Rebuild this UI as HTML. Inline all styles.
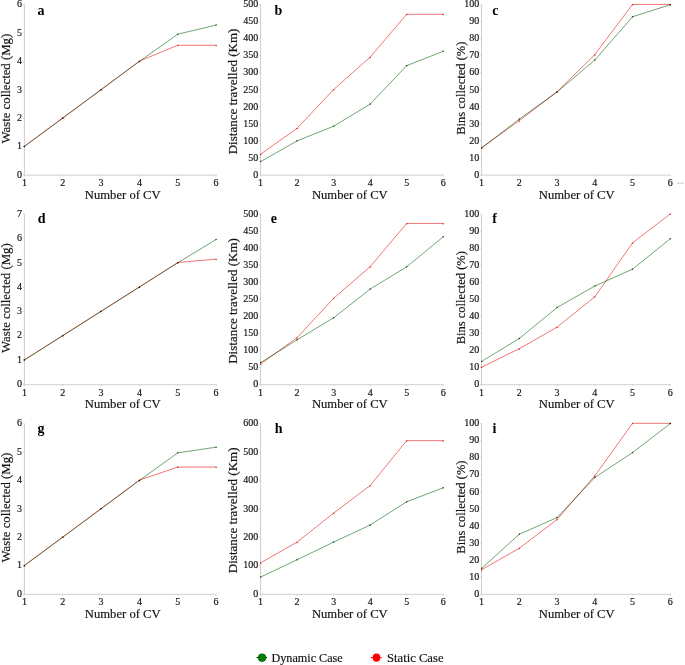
<!DOCTYPE html>
<html><head><meta charset="utf-8"><style>
html,body{margin:0;padding:0;background:#fff;}
body{width:685px;height:665px;overflow:hidden;}
svg{display:block;}
text{font-family:"Liberation Serif",serif;fill:#151515;stroke:#151515;stroke-width:0.18px;}
.pl{stroke-width:0;}
.tk{font-size:10px;}
.xl{font-size:12.8px;}
.al{font-size:12.2px;}
.lg{font-size:12.8px;}
.pl{font-size:14px;font-weight:bold;fill:#000;}
</style></head><body>
<svg width="685" height="665" viewBox="0 0 685 665">
<rect width="685" height="665" fill="#fff"/>
<g><line x1="24.4" y1="4.7" x2="24.4" y2="176.1" stroke="#cdcdcd" stroke-width="1"/><line x1="23.9" y1="175.1" x2="216.6" y2="175.1" stroke="#d9d9d9" stroke-width="1.2"/><line x1="22.8" y1="174.9" x2="24.4" y2="174.9" stroke="#cdcdcd" stroke-width="0.8"/><text x="22" y="177.6" class="tk" text-anchor="end">0</text><line x1="22.8" y1="146.53" x2="24.4" y2="146.53" stroke="#cdcdcd" stroke-width="0.8"/><text x="22" y="149.23" class="tk" text-anchor="end">1</text><line x1="22.8" y1="118.17" x2="24.4" y2="118.17" stroke="#cdcdcd" stroke-width="0.8"/><text x="22" y="120.87" class="tk" text-anchor="end">2</text><line x1="22.8" y1="89.8" x2="24.4" y2="89.8" stroke="#cdcdcd" stroke-width="0.8"/><text x="22" y="92.5" class="tk" text-anchor="end">3</text><line x1="22.8" y1="61.43" x2="24.4" y2="61.43" stroke="#cdcdcd" stroke-width="0.8"/><text x="22" y="64.13" class="tk" text-anchor="end">4</text><line x1="22.8" y1="33.07" x2="24.4" y2="33.07" stroke="#cdcdcd" stroke-width="0.8"/><text x="22" y="35.77" class="tk" text-anchor="end">5</text><line x1="22.8" y1="4.7" x2="24.4" y2="4.7" stroke="#cdcdcd" stroke-width="0.8"/><text x="22" y="7.4" class="tk" text-anchor="end">6</text><line x1="24.4" y1="174.9" x2="24.4" y2="176.5" stroke="#cdcdcd" stroke-width="0.8"/><text x="24.4" y="186.2" class="tk" text-anchor="middle">1</text><line x1="62.74" y1="174.9" x2="62.74" y2="176.5" stroke="#cdcdcd" stroke-width="0.8"/><text x="62.74" y="186.2" class="tk" text-anchor="middle">2</text><line x1="101.08" y1="174.9" x2="101.08" y2="176.5" stroke="#cdcdcd" stroke-width="0.8"/><text x="101.08" y="186.2" class="tk" text-anchor="middle">3</text><line x1="139.42" y1="174.9" x2="139.42" y2="176.5" stroke="#cdcdcd" stroke-width="0.8"/><text x="139.42" y="186.2" class="tk" text-anchor="middle">4</text><line x1="177.76" y1="174.9" x2="177.76" y2="176.5" stroke="#cdcdcd" stroke-width="0.8"/><text x="177.76" y="186.2" class="tk" text-anchor="middle">5</text><line x1="216.1" y1="174.9" x2="216.1" y2="176.5" stroke="#cdcdcd" stroke-width="0.8"/><text x="216.1" y="186.2" class="tk" text-anchor="middle">6</text><text x="122.75" y="198.6" class="xl" text-anchor="middle" textLength="75.8" lengthAdjust="spacingAndGlyphs">Number of CV</text><text transform="translate(9.9,88.65) rotate(-90)" x="0" y="0" class="al" text-anchor="middle" textLength="109.8" lengthAdjust="spacingAndGlyphs">Waste collected (Mg)</text><text x="37.5" y="14.5" class="pl">a</text><polyline points="24.4,146.53 62.74,118.17 101.08,89.8 139.42,61.43 177.76,34.2 216.1,25.12" fill="none" stroke="#70a870" stroke-width="1"/><polyline points="24.4,146.53 62.74,118.17 101.08,89.8 139.42,61.43 177.76,45.55 216.1,45.55" fill="none" stroke="#f07676" stroke-width="1" transform="translate(0,-0.3)" style="mix-blend-mode:multiply"/><circle cx="24.4" cy="146.53" r="0.75" fill="#d82020"/><circle cx="62.74" cy="118.17" r="0.75" fill="#d82020"/><circle cx="101.08" cy="89.8" r="0.75" fill="#d82020"/><circle cx="139.42" cy="61.43" r="0.75" fill="#d82020"/><circle cx="177.76" cy="45.55" r="0.75" fill="#d82020"/><circle cx="216.1" cy="45.55" r="0.75" fill="#d82020"/><circle cx="24.4" cy="146.53" r="0.75" fill="#1f4a1f" style="mix-blend-mode:multiply"/><circle cx="62.74" cy="118.17" r="0.75" fill="#1f4a1f" style="mix-blend-mode:multiply"/><circle cx="101.08" cy="89.8" r="0.75" fill="#1f4a1f" style="mix-blend-mode:multiply"/><circle cx="139.42" cy="61.43" r="0.75" fill="#1f4a1f" style="mix-blend-mode:multiply"/><circle cx="177.76" cy="34.2" r="0.75" fill="#1f4a1f" style="mix-blend-mode:multiply"/><circle cx="216.1" cy="25.12" r="0.75" fill="#1f4a1f" style="mix-blend-mode:multiply"/></g><g><line x1="260.6" y1="4.7" x2="260.6" y2="176.1" stroke="#cdcdcd" stroke-width="1"/><line x1="260.1" y1="175.1" x2="443.7" y2="175.1" stroke="#d9d9d9" stroke-width="1.2"/><line x1="259" y1="174.9" x2="260.6" y2="174.9" stroke="#cdcdcd" stroke-width="0.8"/><text x="258.2" y="177.6" class="tk" text-anchor="end">0</text><line x1="259" y1="157.88" x2="260.6" y2="157.88" stroke="#cdcdcd" stroke-width="0.8"/><text x="258.2" y="160.58" class="tk" text-anchor="end">50</text><line x1="259" y1="140.86" x2="260.6" y2="140.86" stroke="#cdcdcd" stroke-width="0.8"/><text x="258.2" y="143.56" class="tk" text-anchor="end">100</text><line x1="259" y1="123.84" x2="260.6" y2="123.84" stroke="#cdcdcd" stroke-width="0.8"/><text x="258.2" y="126.54" class="tk" text-anchor="end">150</text><line x1="259" y1="106.82" x2="260.6" y2="106.82" stroke="#cdcdcd" stroke-width="0.8"/><text x="258.2" y="109.52" class="tk" text-anchor="end">200</text><line x1="259" y1="89.8" x2="260.6" y2="89.8" stroke="#cdcdcd" stroke-width="0.8"/><text x="258.2" y="92.5" class="tk" text-anchor="end">250</text><line x1="259" y1="72.78" x2="260.6" y2="72.78" stroke="#cdcdcd" stroke-width="0.8"/><text x="258.2" y="75.48" class="tk" text-anchor="end">300</text><line x1="259" y1="55.76" x2="260.6" y2="55.76" stroke="#cdcdcd" stroke-width="0.8"/><text x="258.2" y="58.46" class="tk" text-anchor="end">350</text><line x1="259" y1="38.74" x2="260.6" y2="38.74" stroke="#cdcdcd" stroke-width="0.8"/><text x="258.2" y="41.44" class="tk" text-anchor="end">400</text><line x1="259" y1="21.72" x2="260.6" y2="21.72" stroke="#cdcdcd" stroke-width="0.8"/><text x="258.2" y="24.42" class="tk" text-anchor="end">450</text><line x1="259" y1="4.7" x2="260.6" y2="4.7" stroke="#cdcdcd" stroke-width="0.8"/><text x="258.2" y="7.4" class="tk" text-anchor="end">500</text><line x1="260.6" y1="174.9" x2="260.6" y2="176.5" stroke="#cdcdcd" stroke-width="0.8"/><text x="260.6" y="186.2" class="tk" text-anchor="middle">1</text><line x1="297.12" y1="174.9" x2="297.12" y2="176.5" stroke="#cdcdcd" stroke-width="0.8"/><text x="297.12" y="186.2" class="tk" text-anchor="middle">2</text><line x1="333.64" y1="174.9" x2="333.64" y2="176.5" stroke="#cdcdcd" stroke-width="0.8"/><text x="333.64" y="186.2" class="tk" text-anchor="middle">3</text><line x1="370.16" y1="174.9" x2="370.16" y2="176.5" stroke="#cdcdcd" stroke-width="0.8"/><text x="370.16" y="186.2" class="tk" text-anchor="middle">4</text><line x1="406.68" y1="174.9" x2="406.68" y2="176.5" stroke="#cdcdcd" stroke-width="0.8"/><text x="406.68" y="186.2" class="tk" text-anchor="middle">5</text><line x1="443.2" y1="174.9" x2="443.2" y2="176.5" stroke="#cdcdcd" stroke-width="0.8"/><text x="443.2" y="186.2" class="tk" text-anchor="middle">6</text><text x="349.8" y="198.6" class="xl" text-anchor="middle" textLength="75.8" lengthAdjust="spacingAndGlyphs">Number of CV</text><text transform="translate(237.3,91.45) rotate(-90)" x="0" y="0" class="al" text-anchor="middle" textLength="125.7" lengthAdjust="spacingAndGlyphs">Distance travelled (Km)</text><text x="274.5" y="14.7" class="pl">b</text><polyline points="260.6,161.62 297.12,140.86 333.64,126.22 370.16,104.1 406.68,65.63 443.2,51.33" fill="none" stroke="#70a870" stroke-width="1"/><polyline points="260.6,154.48 297.12,128.61 333.64,89.8 370.16,57.46 406.68,14.57 443.2,14.57" fill="none" stroke="#f07676" stroke-width="1" transform="translate(0,-0.3)" style="mix-blend-mode:multiply"/><circle cx="260.6" cy="154.48" r="0.75" fill="#d82020"/><circle cx="297.12" cy="128.61" r="0.75" fill="#d82020"/><circle cx="333.64" cy="89.8" r="0.75" fill="#d82020"/><circle cx="370.16" cy="57.46" r="0.75" fill="#d82020"/><circle cx="406.68" cy="14.57" r="0.75" fill="#d82020"/><circle cx="443.2" cy="14.57" r="0.75" fill="#d82020"/><circle cx="260.6" cy="161.62" r="0.75" fill="#1f4a1f" style="mix-blend-mode:multiply"/><circle cx="297.12" cy="140.86" r="0.75" fill="#1f4a1f" style="mix-blend-mode:multiply"/><circle cx="333.64" cy="126.22" r="0.75" fill="#1f4a1f" style="mix-blend-mode:multiply"/><circle cx="370.16" cy="104.1" r="0.75" fill="#1f4a1f" style="mix-blend-mode:multiply"/><circle cx="406.68" cy="65.63" r="0.75" fill="#1f4a1f" style="mix-blend-mode:multiply"/><circle cx="443.2" cy="51.33" r="0.75" fill="#1f4a1f" style="mix-blend-mode:multiply"/></g><g><line x1="481.6" y1="4.7" x2="481.6" y2="176.1" stroke="#cdcdcd" stroke-width="1"/><line x1="481.1" y1="175.1" x2="670.8" y2="175.1" stroke="#d9d9d9" stroke-width="1.2"/><line x1="480" y1="174.9" x2="481.6" y2="174.9" stroke="#cdcdcd" stroke-width="0.8"/><text x="479.2" y="177.6" class="tk" text-anchor="end">0</text><line x1="480" y1="157.88" x2="481.6" y2="157.88" stroke="#cdcdcd" stroke-width="0.8"/><text x="479.2" y="160.58" class="tk" text-anchor="end">10</text><line x1="480" y1="140.86" x2="481.6" y2="140.86" stroke="#cdcdcd" stroke-width="0.8"/><text x="479.2" y="143.56" class="tk" text-anchor="end">20</text><line x1="480" y1="123.84" x2="481.6" y2="123.84" stroke="#cdcdcd" stroke-width="0.8"/><text x="479.2" y="126.54" class="tk" text-anchor="end">30</text><line x1="480" y1="106.82" x2="481.6" y2="106.82" stroke="#cdcdcd" stroke-width="0.8"/><text x="479.2" y="109.52" class="tk" text-anchor="end">40</text><line x1="480" y1="89.8" x2="481.6" y2="89.8" stroke="#cdcdcd" stroke-width="0.8"/><text x="479.2" y="92.5" class="tk" text-anchor="end">50</text><line x1="480" y1="72.78" x2="481.6" y2="72.78" stroke="#cdcdcd" stroke-width="0.8"/><text x="479.2" y="75.48" class="tk" text-anchor="end">60</text><line x1="480" y1="55.76" x2="481.6" y2="55.76" stroke="#cdcdcd" stroke-width="0.8"/><text x="479.2" y="58.46" class="tk" text-anchor="end">70</text><line x1="480" y1="38.74" x2="481.6" y2="38.74" stroke="#cdcdcd" stroke-width="0.8"/><text x="479.2" y="41.44" class="tk" text-anchor="end">80</text><line x1="480" y1="21.72" x2="481.6" y2="21.72" stroke="#cdcdcd" stroke-width="0.8"/><text x="479.2" y="24.42" class="tk" text-anchor="end">90</text><line x1="480" y1="4.7" x2="481.6" y2="4.7" stroke="#cdcdcd" stroke-width="0.8"/><text x="479.2" y="7.4" class="tk" text-anchor="end">100</text><line x1="481.6" y1="174.9" x2="481.6" y2="176.5" stroke="#cdcdcd" stroke-width="0.8"/><text x="481.6" y="186.2" class="tk" text-anchor="middle">1</text><line x1="519.34" y1="174.9" x2="519.34" y2="176.5" stroke="#cdcdcd" stroke-width="0.8"/><text x="519.34" y="186.2" class="tk" text-anchor="middle">2</text><line x1="557.08" y1="174.9" x2="557.08" y2="176.5" stroke="#cdcdcd" stroke-width="0.8"/><text x="557.08" y="186.2" class="tk" text-anchor="middle">3</text><line x1="594.82" y1="174.9" x2="594.82" y2="176.5" stroke="#cdcdcd" stroke-width="0.8"/><text x="594.82" y="186.2" class="tk" text-anchor="middle">4</text><line x1="632.56" y1="174.9" x2="632.56" y2="176.5" stroke="#cdcdcd" stroke-width="0.8"/><text x="632.56" y="186.2" class="tk" text-anchor="middle">5</text><line x1="670.3" y1="174.9" x2="670.3" y2="176.5" stroke="#cdcdcd" stroke-width="0.8"/><text x="670.3" y="186.2" class="tk" text-anchor="middle">6</text><text x="576.75" y="198.6" class="xl" text-anchor="middle" textLength="75.8" lengthAdjust="spacingAndGlyphs">Number of CV</text><text transform="translate(464.7,88.2) rotate(-90)" x="0" y="0" class="al" text-anchor="middle" textLength="93.2" lengthAdjust="spacingAndGlyphs">Bins collected (%)</text><text x="492.3" y="14.5" class="pl">c</text><polyline points="481.6,148.01 519.34,119.07 557.08,92.01 594.82,60.01 632.56,16.78 670.3,4.7" fill="none" stroke="#70a870" stroke-width="1"/><polyline points="481.6,148.01 519.34,120.95 557.08,92.01 594.82,54.91 632.56,4.7 670.3,4.7" fill="none" stroke="#f07676" stroke-width="1" transform="translate(0,-0.3)" style="mix-blend-mode:multiply"/><circle cx="481.6" cy="148.01" r="0.75" fill="#d82020"/><circle cx="519.34" cy="120.95" r="0.75" fill="#d82020"/><circle cx="557.08" cy="92.01" r="0.75" fill="#d82020"/><circle cx="594.82" cy="54.91" r="0.75" fill="#d82020"/><circle cx="632.56" cy="4.7" r="0.75" fill="#d82020"/><circle cx="670.3" cy="4.7" r="0.75" fill="#d82020"/><circle cx="481.6" cy="148.01" r="0.75" fill="#1f4a1f" style="mix-blend-mode:multiply"/><circle cx="519.34" cy="119.07" r="0.75" fill="#1f4a1f" style="mix-blend-mode:multiply"/><circle cx="557.08" cy="92.01" r="0.75" fill="#1f4a1f" style="mix-blend-mode:multiply"/><circle cx="594.82" cy="60.01" r="0.75" fill="#1f4a1f" style="mix-blend-mode:multiply"/><circle cx="632.56" cy="16.78" r="0.75" fill="#1f4a1f" style="mix-blend-mode:multiply"/><circle cx="670.3" cy="4.7" r="0.75" fill="#1f4a1f" style="mix-blend-mode:multiply"/></g><g><line x1="24.4" y1="214.2" x2="24.4" y2="385.6" stroke="#cdcdcd" stroke-width="1"/><line x1="23.9" y1="384.6" x2="216.6" y2="384.6" stroke="#d9d9d9" stroke-width="1.2"/><line x1="22.8" y1="384.4" x2="24.4" y2="384.4" stroke="#cdcdcd" stroke-width="0.8"/><text x="22" y="387.1" class="tk" text-anchor="end">0</text><line x1="22.8" y1="360.09" x2="24.4" y2="360.09" stroke="#cdcdcd" stroke-width="0.8"/><text x="22" y="362.79" class="tk" text-anchor="end">1</text><line x1="22.8" y1="335.77" x2="24.4" y2="335.77" stroke="#cdcdcd" stroke-width="0.8"/><text x="22" y="338.47" class="tk" text-anchor="end">2</text><line x1="22.8" y1="311.46" x2="24.4" y2="311.46" stroke="#cdcdcd" stroke-width="0.8"/><text x="22" y="314.16" class="tk" text-anchor="end">3</text><line x1="22.8" y1="287.14" x2="24.4" y2="287.14" stroke="#cdcdcd" stroke-width="0.8"/><text x="22" y="289.84" class="tk" text-anchor="end">4</text><line x1="22.8" y1="262.83" x2="24.4" y2="262.83" stroke="#cdcdcd" stroke-width="0.8"/><text x="22" y="265.53" class="tk" text-anchor="end">5</text><line x1="22.8" y1="238.51" x2="24.4" y2="238.51" stroke="#cdcdcd" stroke-width="0.8"/><text x="22" y="241.21" class="tk" text-anchor="end">6</text><line x1="22.8" y1="214.2" x2="24.4" y2="214.2" stroke="#cdcdcd" stroke-width="0.8"/><text x="22" y="216.9" class="tk" text-anchor="end">7</text><line x1="24.4" y1="384.4" x2="24.4" y2="386" stroke="#cdcdcd" stroke-width="0.8"/><text x="24.4" y="395.7" class="tk" text-anchor="middle">1</text><line x1="62.74" y1="384.4" x2="62.74" y2="386" stroke="#cdcdcd" stroke-width="0.8"/><text x="62.74" y="395.7" class="tk" text-anchor="middle">2</text><line x1="101.08" y1="384.4" x2="101.08" y2="386" stroke="#cdcdcd" stroke-width="0.8"/><text x="101.08" y="395.7" class="tk" text-anchor="middle">3</text><line x1="139.42" y1="384.4" x2="139.42" y2="386" stroke="#cdcdcd" stroke-width="0.8"/><text x="139.42" y="395.7" class="tk" text-anchor="middle">4</text><line x1="177.76" y1="384.4" x2="177.76" y2="386" stroke="#cdcdcd" stroke-width="0.8"/><text x="177.76" y="395.7" class="tk" text-anchor="middle">5</text><line x1="216.1" y1="384.4" x2="216.1" y2="386" stroke="#cdcdcd" stroke-width="0.8"/><text x="216.1" y="395.7" class="tk" text-anchor="middle">6</text><text x="122.75" y="408.1" class="xl" text-anchor="middle" textLength="75.8" lengthAdjust="spacingAndGlyphs">Number of CV</text><text transform="translate(9.9,298.15) rotate(-90)" x="0" y="0" class="al" text-anchor="middle" textLength="109.8" lengthAdjust="spacingAndGlyphs">Waste collected (Mg)</text><text x="37.8" y="223" class="pl">d</text><polyline points="24.4,360.09 62.74,335.77 101.08,311.46 139.42,287.14 177.76,262.83 216.1,239.49" fill="none" stroke="#70a870" stroke-width="1"/><polyline points="24.4,360.09 62.74,335.77 101.08,311.46 139.42,287.14 177.76,262.83 216.1,259.42" fill="none" stroke="#f07676" stroke-width="1" transform="translate(0,-0.3)" style="mix-blend-mode:multiply"/><circle cx="24.4" cy="360.09" r="0.75" fill="#d82020"/><circle cx="62.74" cy="335.77" r="0.75" fill="#d82020"/><circle cx="101.08" cy="311.46" r="0.75" fill="#d82020"/><circle cx="139.42" cy="287.14" r="0.75" fill="#d82020"/><circle cx="177.76" cy="262.83" r="0.75" fill="#d82020"/><circle cx="216.1" cy="259.42" r="0.75" fill="#d82020"/><circle cx="24.4" cy="360.09" r="0.75" fill="#1f4a1f" style="mix-blend-mode:multiply"/><circle cx="62.74" cy="335.77" r="0.75" fill="#1f4a1f" style="mix-blend-mode:multiply"/><circle cx="101.08" cy="311.46" r="0.75" fill="#1f4a1f" style="mix-blend-mode:multiply"/><circle cx="139.42" cy="287.14" r="0.75" fill="#1f4a1f" style="mix-blend-mode:multiply"/><circle cx="177.76" cy="262.83" r="0.75" fill="#1f4a1f" style="mix-blend-mode:multiply"/><circle cx="216.1" cy="239.49" r="0.75" fill="#1f4a1f" style="mix-blend-mode:multiply"/></g><g><line x1="260.6" y1="214.2" x2="260.6" y2="385.6" stroke="#cdcdcd" stroke-width="1"/><line x1="260.1" y1="384.6" x2="443.7" y2="384.6" stroke="#d9d9d9" stroke-width="1.2"/><line x1="259" y1="384.4" x2="260.6" y2="384.4" stroke="#cdcdcd" stroke-width="0.8"/><text x="258.2" y="387.1" class="tk" text-anchor="end">0</text><line x1="259" y1="367.38" x2="260.6" y2="367.38" stroke="#cdcdcd" stroke-width="0.8"/><text x="258.2" y="370.08" class="tk" text-anchor="end">50</text><line x1="259" y1="350.36" x2="260.6" y2="350.36" stroke="#cdcdcd" stroke-width="0.8"/><text x="258.2" y="353.06" class="tk" text-anchor="end">100</text><line x1="259" y1="333.34" x2="260.6" y2="333.34" stroke="#cdcdcd" stroke-width="0.8"/><text x="258.2" y="336.04" class="tk" text-anchor="end">150</text><line x1="259" y1="316.32" x2="260.6" y2="316.32" stroke="#cdcdcd" stroke-width="0.8"/><text x="258.2" y="319.02" class="tk" text-anchor="end">200</text><line x1="259" y1="299.3" x2="260.6" y2="299.3" stroke="#cdcdcd" stroke-width="0.8"/><text x="258.2" y="302" class="tk" text-anchor="end">250</text><line x1="259" y1="282.28" x2="260.6" y2="282.28" stroke="#cdcdcd" stroke-width="0.8"/><text x="258.2" y="284.98" class="tk" text-anchor="end">300</text><line x1="259" y1="265.26" x2="260.6" y2="265.26" stroke="#cdcdcd" stroke-width="0.8"/><text x="258.2" y="267.96" class="tk" text-anchor="end">350</text><line x1="259" y1="248.24" x2="260.6" y2="248.24" stroke="#cdcdcd" stroke-width="0.8"/><text x="258.2" y="250.94" class="tk" text-anchor="end">400</text><line x1="259" y1="231.22" x2="260.6" y2="231.22" stroke="#cdcdcd" stroke-width="0.8"/><text x="258.2" y="233.92" class="tk" text-anchor="end">450</text><line x1="259" y1="214.2" x2="260.6" y2="214.2" stroke="#cdcdcd" stroke-width="0.8"/><text x="258.2" y="216.9" class="tk" text-anchor="end">500</text><line x1="260.6" y1="384.4" x2="260.6" y2="386" stroke="#cdcdcd" stroke-width="0.8"/><text x="260.6" y="395.7" class="tk" text-anchor="middle">1</text><line x1="297.12" y1="384.4" x2="297.12" y2="386" stroke="#cdcdcd" stroke-width="0.8"/><text x="297.12" y="395.7" class="tk" text-anchor="middle">2</text><line x1="333.64" y1="384.4" x2="333.64" y2="386" stroke="#cdcdcd" stroke-width="0.8"/><text x="333.64" y="395.7" class="tk" text-anchor="middle">3</text><line x1="370.16" y1="384.4" x2="370.16" y2="386" stroke="#cdcdcd" stroke-width="0.8"/><text x="370.16" y="395.7" class="tk" text-anchor="middle">4</text><line x1="406.68" y1="384.4" x2="406.68" y2="386" stroke="#cdcdcd" stroke-width="0.8"/><text x="406.68" y="395.7" class="tk" text-anchor="middle">5</text><line x1="443.2" y1="384.4" x2="443.2" y2="386" stroke="#cdcdcd" stroke-width="0.8"/><text x="443.2" y="395.7" class="tk" text-anchor="middle">6</text><text x="349.8" y="408.1" class="xl" text-anchor="middle" textLength="75.8" lengthAdjust="spacingAndGlyphs">Number of CV</text><text transform="translate(237.3,300.95) rotate(-90)" x="0" y="0" class="al" text-anchor="middle" textLength="125.7" lengthAdjust="spacingAndGlyphs">Distance travelled (Km)</text><text x="270.7" y="223.1" class="pl">e</text><polyline points="260.6,362.61 297.12,339.81 333.64,317.82 370.16,289.09 406.68,266.79 443.2,236.84" fill="none" stroke="#70a870" stroke-width="1"/><polyline points="260.6,364.32 297.12,337.94 333.64,298.62 370.16,266.96 406.68,223.73 443.2,223.73" fill="none" stroke="#f07676" stroke-width="1" transform="translate(0,-0.3)" style="mix-blend-mode:multiply"/><circle cx="260.6" cy="364.32" r="0.75" fill="#d82020"/><circle cx="297.12" cy="337.94" r="0.75" fill="#d82020"/><circle cx="333.64" cy="298.62" r="0.75" fill="#d82020"/><circle cx="370.16" cy="266.96" r="0.75" fill="#d82020"/><circle cx="406.68" cy="223.73" r="0.75" fill="#d82020"/><circle cx="443.2" cy="223.73" r="0.75" fill="#d82020"/><circle cx="260.6" cy="362.61" r="0.75" fill="#1f4a1f" style="mix-blend-mode:multiply"/><circle cx="297.12" cy="339.81" r="0.75" fill="#1f4a1f" style="mix-blend-mode:multiply"/><circle cx="333.64" cy="317.82" r="0.75" fill="#1f4a1f" style="mix-blend-mode:multiply"/><circle cx="370.16" cy="289.09" r="0.75" fill="#1f4a1f" style="mix-blend-mode:multiply"/><circle cx="406.68" cy="266.79" r="0.75" fill="#1f4a1f" style="mix-blend-mode:multiply"/><circle cx="443.2" cy="236.84" r="0.75" fill="#1f4a1f" style="mix-blend-mode:multiply"/></g><g><line x1="481.6" y1="214.2" x2="481.6" y2="385.6" stroke="#cdcdcd" stroke-width="1"/><line x1="481.1" y1="384.6" x2="670.8" y2="384.6" stroke="#d9d9d9" stroke-width="1.2"/><line x1="480" y1="384.4" x2="481.6" y2="384.4" stroke="#cdcdcd" stroke-width="0.8"/><text x="479.2" y="387.1" class="tk" text-anchor="end">0</text><line x1="480" y1="367.38" x2="481.6" y2="367.38" stroke="#cdcdcd" stroke-width="0.8"/><text x="479.2" y="370.08" class="tk" text-anchor="end">10</text><line x1="480" y1="350.36" x2="481.6" y2="350.36" stroke="#cdcdcd" stroke-width="0.8"/><text x="479.2" y="353.06" class="tk" text-anchor="end">20</text><line x1="480" y1="333.34" x2="481.6" y2="333.34" stroke="#cdcdcd" stroke-width="0.8"/><text x="479.2" y="336.04" class="tk" text-anchor="end">30</text><line x1="480" y1="316.32" x2="481.6" y2="316.32" stroke="#cdcdcd" stroke-width="0.8"/><text x="479.2" y="319.02" class="tk" text-anchor="end">40</text><line x1="480" y1="299.3" x2="481.6" y2="299.3" stroke="#cdcdcd" stroke-width="0.8"/><text x="479.2" y="302" class="tk" text-anchor="end">50</text><line x1="480" y1="282.28" x2="481.6" y2="282.28" stroke="#cdcdcd" stroke-width="0.8"/><text x="479.2" y="284.98" class="tk" text-anchor="end">60</text><line x1="480" y1="265.26" x2="481.6" y2="265.26" stroke="#cdcdcd" stroke-width="0.8"/><text x="479.2" y="267.96" class="tk" text-anchor="end">70</text><line x1="480" y1="248.24" x2="481.6" y2="248.24" stroke="#cdcdcd" stroke-width="0.8"/><text x="479.2" y="250.94" class="tk" text-anchor="end">80</text><line x1="480" y1="231.22" x2="481.6" y2="231.22" stroke="#cdcdcd" stroke-width="0.8"/><text x="479.2" y="233.92" class="tk" text-anchor="end">90</text><line x1="480" y1="214.2" x2="481.6" y2="214.2" stroke="#cdcdcd" stroke-width="0.8"/><text x="479.2" y="216.9" class="tk" text-anchor="end">100</text><line x1="481.6" y1="384.4" x2="481.6" y2="386" stroke="#cdcdcd" stroke-width="0.8"/><text x="481.6" y="395.7" class="tk" text-anchor="middle">1</text><line x1="519.34" y1="384.4" x2="519.34" y2="386" stroke="#cdcdcd" stroke-width="0.8"/><text x="519.34" y="395.7" class="tk" text-anchor="middle">2</text><line x1="557.08" y1="384.4" x2="557.08" y2="386" stroke="#cdcdcd" stroke-width="0.8"/><text x="557.08" y="395.7" class="tk" text-anchor="middle">3</text><line x1="594.82" y1="384.4" x2="594.82" y2="386" stroke="#cdcdcd" stroke-width="0.8"/><text x="594.82" y="395.7" class="tk" text-anchor="middle">4</text><line x1="632.56" y1="384.4" x2="632.56" y2="386" stroke="#cdcdcd" stroke-width="0.8"/><text x="632.56" y="395.7" class="tk" text-anchor="middle">5</text><line x1="670.3" y1="384.4" x2="670.3" y2="386" stroke="#cdcdcd" stroke-width="0.8"/><text x="670.3" y="395.7" class="tk" text-anchor="middle">6</text><text x="576.75" y="408.1" class="xl" text-anchor="middle" textLength="75.8" lengthAdjust="spacingAndGlyphs">Number of CV</text><text transform="translate(464.7,297.7) rotate(-90)" x="0" y="0" class="al" text-anchor="middle" textLength="93.2" lengthAdjust="spacingAndGlyphs">Bins collected (%)</text><text x="492.3" y="223.1" class="pl">f</text><polyline points="481.6,361.42 519.34,338.45 557.08,307.47 594.82,286.02 632.56,269.17 670.3,238.71" fill="none" stroke="#70a870" stroke-width="1"/><polyline points="481.6,367.55 519.34,349 557.08,327.38 594.82,297.09 632.56,243.13 670.3,214.2" fill="none" stroke="#f07676" stroke-width="1" transform="translate(0,-0.3)" style="mix-blend-mode:multiply"/><circle cx="481.6" cy="367.55" r="0.75" fill="#d82020"/><circle cx="519.34" cy="349" r="0.75" fill="#d82020"/><circle cx="557.08" cy="327.38" r="0.75" fill="#d82020"/><circle cx="594.82" cy="297.09" r="0.75" fill="#d82020"/><circle cx="632.56" cy="243.13" r="0.75" fill="#d82020"/><circle cx="670.3" cy="214.2" r="0.75" fill="#d82020"/><circle cx="481.6" cy="361.42" r="0.75" fill="#1f4a1f" style="mix-blend-mode:multiply"/><circle cx="519.34" cy="338.45" r="0.75" fill="#1f4a1f" style="mix-blend-mode:multiply"/><circle cx="557.08" cy="307.47" r="0.75" fill="#1f4a1f" style="mix-blend-mode:multiply"/><circle cx="594.82" cy="286.02" r="0.75" fill="#1f4a1f" style="mix-blend-mode:multiply"/><circle cx="632.56" cy="269.17" r="0.75" fill="#1f4a1f" style="mix-blend-mode:multiply"/><circle cx="670.3" cy="238.71" r="0.75" fill="#1f4a1f" style="mix-blend-mode:multiply"/></g><g><line x1="24.4" y1="423.6" x2="24.4" y2="595.3" stroke="#cdcdcd" stroke-width="1"/><line x1="23.9" y1="594.3" x2="216.6" y2="594.3" stroke="#d9d9d9" stroke-width="1.2"/><line x1="22.8" y1="594.1" x2="24.4" y2="594.1" stroke="#cdcdcd" stroke-width="0.8"/><text x="22" y="596.8" class="tk" text-anchor="end">0</text><line x1="22.8" y1="565.68" x2="24.4" y2="565.68" stroke="#cdcdcd" stroke-width="0.8"/><text x="22" y="568.38" class="tk" text-anchor="end">1</text><line x1="22.8" y1="537.27" x2="24.4" y2="537.27" stroke="#cdcdcd" stroke-width="0.8"/><text x="22" y="539.97" class="tk" text-anchor="end">2</text><line x1="22.8" y1="508.85" x2="24.4" y2="508.85" stroke="#cdcdcd" stroke-width="0.8"/><text x="22" y="511.55" class="tk" text-anchor="end">3</text><line x1="22.8" y1="480.43" x2="24.4" y2="480.43" stroke="#cdcdcd" stroke-width="0.8"/><text x="22" y="483.13" class="tk" text-anchor="end">4</text><line x1="22.8" y1="452.02" x2="24.4" y2="452.02" stroke="#cdcdcd" stroke-width="0.8"/><text x="22" y="454.72" class="tk" text-anchor="end">5</text><line x1="22.8" y1="423.6" x2="24.4" y2="423.6" stroke="#cdcdcd" stroke-width="0.8"/><text x="22" y="426.3" class="tk" text-anchor="end">6</text><line x1="24.4" y1="594.1" x2="24.4" y2="595.7" stroke="#cdcdcd" stroke-width="0.8"/><text x="24.4" y="605.4" class="tk" text-anchor="middle">1</text><line x1="62.74" y1="594.1" x2="62.74" y2="595.7" stroke="#cdcdcd" stroke-width="0.8"/><text x="62.74" y="605.4" class="tk" text-anchor="middle">2</text><line x1="101.08" y1="594.1" x2="101.08" y2="595.7" stroke="#cdcdcd" stroke-width="0.8"/><text x="101.08" y="605.4" class="tk" text-anchor="middle">3</text><line x1="139.42" y1="594.1" x2="139.42" y2="595.7" stroke="#cdcdcd" stroke-width="0.8"/><text x="139.42" y="605.4" class="tk" text-anchor="middle">4</text><line x1="177.76" y1="594.1" x2="177.76" y2="595.7" stroke="#cdcdcd" stroke-width="0.8"/><text x="177.76" y="605.4" class="tk" text-anchor="middle">5</text><line x1="216.1" y1="594.1" x2="216.1" y2="595.7" stroke="#cdcdcd" stroke-width="0.8"/><text x="216.1" y="605.4" class="tk" text-anchor="middle">6</text><text x="122.75" y="617.8" class="xl" text-anchor="middle" textLength="75.8" lengthAdjust="spacingAndGlyphs">Number of CV</text><text transform="translate(9.9,507.55) rotate(-90)" x="0" y="0" class="al" text-anchor="middle" textLength="109.8" lengthAdjust="spacingAndGlyphs">Waste collected (Mg)</text><text x="37.4" y="433.4" class="pl">g</text><polyline points="24.4,565.68 62.74,537.27 101.08,508.85 139.42,480.43 177.76,452.87 216.1,447.19" fill="none" stroke="#70a870" stroke-width="1"/><polyline points="24.4,565.68 62.74,537.27 101.08,508.85 139.42,480.43 177.76,467.36 216.1,467.36" fill="none" stroke="#f07676" stroke-width="1" transform="translate(0,-0.3)" style="mix-blend-mode:multiply"/><circle cx="24.4" cy="565.68" r="0.75" fill="#d82020"/><circle cx="62.74" cy="537.27" r="0.75" fill="#d82020"/><circle cx="101.08" cy="508.85" r="0.75" fill="#d82020"/><circle cx="139.42" cy="480.43" r="0.75" fill="#d82020"/><circle cx="177.76" cy="467.36" r="0.75" fill="#d82020"/><circle cx="216.1" cy="467.36" r="0.75" fill="#d82020"/><circle cx="24.4" cy="565.68" r="0.75" fill="#1f4a1f" style="mix-blend-mode:multiply"/><circle cx="62.74" cy="537.27" r="0.75" fill="#1f4a1f" style="mix-blend-mode:multiply"/><circle cx="101.08" cy="508.85" r="0.75" fill="#1f4a1f" style="mix-blend-mode:multiply"/><circle cx="139.42" cy="480.43" r="0.75" fill="#1f4a1f" style="mix-blend-mode:multiply"/><circle cx="177.76" cy="452.87" r="0.75" fill="#1f4a1f" style="mix-blend-mode:multiply"/><circle cx="216.1" cy="447.19" r="0.75" fill="#1f4a1f" style="mix-blend-mode:multiply"/></g><g><line x1="260.6" y1="423.6" x2="260.6" y2="595.3" stroke="#cdcdcd" stroke-width="1"/><line x1="260.1" y1="594.3" x2="443.7" y2="594.3" stroke="#d9d9d9" stroke-width="1.2"/><line x1="259" y1="594.1" x2="260.6" y2="594.1" stroke="#cdcdcd" stroke-width="0.8"/><text x="258.2" y="596.8" class="tk" text-anchor="end">0</text><line x1="259" y1="565.68" x2="260.6" y2="565.68" stroke="#cdcdcd" stroke-width="0.8"/><text x="258.2" y="568.38" class="tk" text-anchor="end">100</text><line x1="259" y1="537.27" x2="260.6" y2="537.27" stroke="#cdcdcd" stroke-width="0.8"/><text x="258.2" y="539.97" class="tk" text-anchor="end">200</text><line x1="259" y1="508.85" x2="260.6" y2="508.85" stroke="#cdcdcd" stroke-width="0.8"/><text x="258.2" y="511.55" class="tk" text-anchor="end">300</text><line x1="259" y1="480.43" x2="260.6" y2="480.43" stroke="#cdcdcd" stroke-width="0.8"/><text x="258.2" y="483.13" class="tk" text-anchor="end">400</text><line x1="259" y1="452.02" x2="260.6" y2="452.02" stroke="#cdcdcd" stroke-width="0.8"/><text x="258.2" y="454.72" class="tk" text-anchor="end">500</text><line x1="259" y1="423.6" x2="260.6" y2="423.6" stroke="#cdcdcd" stroke-width="0.8"/><text x="258.2" y="426.3" class="tk" text-anchor="end">600</text><line x1="260.6" y1="594.1" x2="260.6" y2="595.7" stroke="#cdcdcd" stroke-width="0.8"/><text x="260.6" y="605.4" class="tk" text-anchor="middle">1</text><line x1="297.12" y1="594.1" x2="297.12" y2="595.7" stroke="#cdcdcd" stroke-width="0.8"/><text x="297.12" y="605.4" class="tk" text-anchor="middle">2</text><line x1="333.64" y1="594.1" x2="333.64" y2="595.7" stroke="#cdcdcd" stroke-width="0.8"/><text x="333.64" y="605.4" class="tk" text-anchor="middle">3</text><line x1="370.16" y1="594.1" x2="370.16" y2="595.7" stroke="#cdcdcd" stroke-width="0.8"/><text x="370.16" y="605.4" class="tk" text-anchor="middle">4</text><line x1="406.68" y1="594.1" x2="406.68" y2="595.7" stroke="#cdcdcd" stroke-width="0.8"/><text x="406.68" y="605.4" class="tk" text-anchor="middle">5</text><line x1="443.2" y1="594.1" x2="443.2" y2="595.7" stroke="#cdcdcd" stroke-width="0.8"/><text x="443.2" y="605.4" class="tk" text-anchor="middle">6</text><text x="349.8" y="617.8" class="xl" text-anchor="middle" textLength="75.8" lengthAdjust="spacingAndGlyphs">Number of CV</text><text transform="translate(237.3,510.35) rotate(-90)" x="0" y="0" class="al" text-anchor="middle" textLength="125.7" lengthAdjust="spacingAndGlyphs">Distance travelled (Km)</text><text x="274.8" y="433.2" class="pl">h</text><polyline points="260.6,577.05 297.12,559.72 333.64,542.1 370.16,525.05 406.68,501.75 443.2,487.82" fill="none" stroke="#70a870" stroke-width="1"/><polyline points="260.6,563.13 297.12,542.38 333.64,513.4 370.16,485.83 406.68,440.93 443.2,440.93" fill="none" stroke="#f07676" stroke-width="1" transform="translate(0,-0.3)" style="mix-blend-mode:multiply"/><circle cx="260.6" cy="563.13" r="0.75" fill="#d82020"/><circle cx="297.12" cy="542.38" r="0.75" fill="#d82020"/><circle cx="333.64" cy="513.4" r="0.75" fill="#d82020"/><circle cx="370.16" cy="485.83" r="0.75" fill="#d82020"/><circle cx="406.68" cy="440.93" r="0.75" fill="#d82020"/><circle cx="443.2" cy="440.93" r="0.75" fill="#d82020"/><circle cx="260.6" cy="577.05" r="0.75" fill="#1f4a1f" style="mix-blend-mode:multiply"/><circle cx="297.12" cy="559.72" r="0.75" fill="#1f4a1f" style="mix-blend-mode:multiply"/><circle cx="333.64" cy="542.1" r="0.75" fill="#1f4a1f" style="mix-blend-mode:multiply"/><circle cx="370.16" cy="525.05" r="0.75" fill="#1f4a1f" style="mix-blend-mode:multiply"/><circle cx="406.68" cy="501.75" r="0.75" fill="#1f4a1f" style="mix-blend-mode:multiply"/><circle cx="443.2" cy="487.82" r="0.75" fill="#1f4a1f" style="mix-blend-mode:multiply"/></g><g><line x1="481.6" y1="423.6" x2="481.6" y2="595.3" stroke="#cdcdcd" stroke-width="1"/><line x1="481.1" y1="594.3" x2="670.8" y2="594.3" stroke="#d9d9d9" stroke-width="1.2"/><line x1="480" y1="594.1" x2="481.6" y2="594.1" stroke="#cdcdcd" stroke-width="0.8"/><text x="479.2" y="596.8" class="tk" text-anchor="end">0</text><line x1="480" y1="577.05" x2="481.6" y2="577.05" stroke="#cdcdcd" stroke-width="0.8"/><text x="479.2" y="579.75" class="tk" text-anchor="end">10</text><line x1="480" y1="560" x2="481.6" y2="560" stroke="#cdcdcd" stroke-width="0.8"/><text x="479.2" y="562.7" class="tk" text-anchor="end">20</text><line x1="480" y1="542.95" x2="481.6" y2="542.95" stroke="#cdcdcd" stroke-width="0.8"/><text x="479.2" y="545.65" class="tk" text-anchor="end">30</text><line x1="480" y1="525.9" x2="481.6" y2="525.9" stroke="#cdcdcd" stroke-width="0.8"/><text x="479.2" y="528.6" class="tk" text-anchor="end">40</text><line x1="480" y1="508.85" x2="481.6" y2="508.85" stroke="#cdcdcd" stroke-width="0.8"/><text x="479.2" y="511.55" class="tk" text-anchor="end">50</text><line x1="480" y1="491.8" x2="481.6" y2="491.8" stroke="#cdcdcd" stroke-width="0.8"/><text x="479.2" y="494.5" class="tk" text-anchor="end">60</text><line x1="480" y1="474.75" x2="481.6" y2="474.75" stroke="#cdcdcd" stroke-width="0.8"/><text x="479.2" y="477.45" class="tk" text-anchor="end">70</text><line x1="480" y1="457.7" x2="481.6" y2="457.7" stroke="#cdcdcd" stroke-width="0.8"/><text x="479.2" y="460.4" class="tk" text-anchor="end">80</text><line x1="480" y1="440.65" x2="481.6" y2="440.65" stroke="#cdcdcd" stroke-width="0.8"/><text x="479.2" y="443.35" class="tk" text-anchor="end">90</text><line x1="480" y1="423.6" x2="481.6" y2="423.6" stroke="#cdcdcd" stroke-width="0.8"/><text x="479.2" y="426.3" class="tk" text-anchor="end">100</text><line x1="481.6" y1="594.1" x2="481.6" y2="595.7" stroke="#cdcdcd" stroke-width="0.8"/><text x="481.6" y="605.4" class="tk" text-anchor="middle">1</text><line x1="519.34" y1="594.1" x2="519.34" y2="595.7" stroke="#cdcdcd" stroke-width="0.8"/><text x="519.34" y="605.4" class="tk" text-anchor="middle">2</text><line x1="557.08" y1="594.1" x2="557.08" y2="595.7" stroke="#cdcdcd" stroke-width="0.8"/><text x="557.08" y="605.4" class="tk" text-anchor="middle">3</text><line x1="594.82" y1="594.1" x2="594.82" y2="595.7" stroke="#cdcdcd" stroke-width="0.8"/><text x="594.82" y="605.4" class="tk" text-anchor="middle">4</text><line x1="632.56" y1="594.1" x2="632.56" y2="595.7" stroke="#cdcdcd" stroke-width="0.8"/><text x="632.56" y="605.4" class="tk" text-anchor="middle">5</text><line x1="670.3" y1="594.1" x2="670.3" y2="595.7" stroke="#cdcdcd" stroke-width="0.8"/><text x="670.3" y="605.4" class="tk" text-anchor="middle">6</text><text x="576.75" y="617.8" class="xl" text-anchor="middle" textLength="75.8" lengthAdjust="spacingAndGlyphs">Number of CV</text><text transform="translate(464.7,507.1) rotate(-90)" x="0" y="0" class="al" text-anchor="middle" textLength="93.2" lengthAdjust="spacingAndGlyphs">Bins collected (%)</text><text x="492.6" y="433.2" class="pl">i</text><polyline points="481.6,568.35 519.34,534.25 557.08,517.55 594.82,477.48 632.56,452.59 670.3,423.6" fill="none" stroke="#70a870" stroke-width="1"/><polyline points="481.6,570.06 519.34,548.58 557.08,519.76 594.82,476.11 632.56,423.6 670.3,423.6" fill="none" stroke="#f07676" stroke-width="1" transform="translate(0,-0.3)" style="mix-blend-mode:multiply"/><circle cx="481.6" cy="570.06" r="0.75" fill="#d82020"/><circle cx="519.34" cy="548.58" r="0.75" fill="#d82020"/><circle cx="557.08" cy="519.76" r="0.75" fill="#d82020"/><circle cx="594.82" cy="476.11" r="0.75" fill="#d82020"/><circle cx="632.56" cy="423.6" r="0.75" fill="#d82020"/><circle cx="670.3" cy="423.6" r="0.75" fill="#d82020"/><circle cx="481.6" cy="568.35" r="0.75" fill="#1f4a1f" style="mix-blend-mode:multiply"/><circle cx="519.34" cy="534.25" r="0.75" fill="#1f4a1f" style="mix-blend-mode:multiply"/><circle cx="557.08" cy="517.55" r="0.75" fill="#1f4a1f" style="mix-blend-mode:multiply"/><circle cx="594.82" cy="477.48" r="0.75" fill="#1f4a1f" style="mix-blend-mode:multiply"/><circle cx="632.56" cy="452.59" r="0.75" fill="#1f4a1f" style="mix-blend-mode:multiply"/><circle cx="670.3" cy="423.6" r="0.75" fill="#1f4a1f" style="mix-blend-mode:multiply"/></g>

<line x1="256.6" y1="657.5" x2="267" y2="657.5" stroke="#0a0a0a" stroke-width="1.1"/>
<circle cx="262.05" cy="657.65" r="3.9" fill="#008000" stroke="#005800" stroke-width="0.6"/>
<text x="271.5" y="662.1" class="lg" textLength="71.2" lengthAdjust="spacingAndGlyphs">Dynamic Case</text>
<line x1="370.7" y1="657.6" x2="381.5" y2="657.6" stroke="#ff0000" stroke-width="1.2"/>
<ellipse cx="376.5" cy="657.7" rx="3.8" ry="4.1" fill="#ff0000"/>
<text x="387" y="662.1" class="lg" textLength="56.5" lengthAdjust="spacingAndGlyphs">Static Case</text>
<line x1="677" y1="183.2" x2="684" y2="183.2" stroke="#bbb" stroke-width="0.8"/>

</svg>
</body></html>
